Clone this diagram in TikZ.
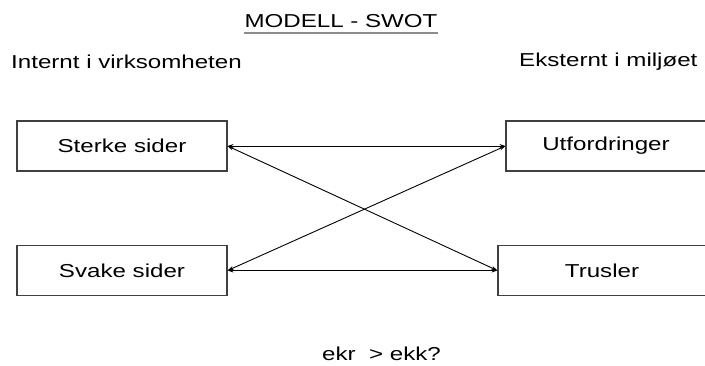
\documentclass[tikz,border=0pt]{standalone}
\usepackage{fontspec}
\setmainfont[FakeStretch=1.29]{Liberation Sans}
\usetikzlibrary{arrows.meta}
\tikzset{
  txt/.style={inner sep=0pt, font=\fontsize{18.7}{22}\selectfont},
  swotbox/.style={draw=black!75, line width=1.2pt, minimum width=#1, minimum height=50pt,
    inner sep=0pt, font=\fontsize{18.7}{22}\selectfont},
  link/.style={line width=0.9pt, {Stealth[length=6pt,width=4pt]}-{Stealth[length=6pt,width=4pt]}}
}
\begin{document}
\begin{tikzpicture}[x=1pt,y=-1pt]
\useasboundingbox (0,0) rectangle (705,365);
% headings
\node[txt, anchor=base] (title) at (341,27.7) {MODELL - SWOT};
\draw[black!45, line width=1.6pt] ([yshift=-5pt]title.base west) -- ([yshift=-5pt]title.base east);
\node[txt, anchor=base west] (intern) at (11,68.3) {Internt i virksomheten};
\node[txt, anchor=base west] (ekstern) at (519,66.7) {Eksternt i miljøet};
% the four fields
\node[swotbox=210pt] (sterke) at (122,146) {Sterke sider};
\node[swotbox=210pt] (svake) at (122,270.5) {Svake sider};
\node[swotbox=200pt] (utf) at (606,146) {Utfordringer};
\node[swotbox=208pt] (trusler) at (602,270.5) {Trusler};
% connections
\draw[link] (sterke.east) -- (utf.west);
\draw[link] (sterke.east) -- (trusler.west);
\draw[link] (svake.east) -- (utf.west);
\draw[link] (svake.east) -- (trusler.west);
% question
\node[txt, anchor=base west] (q) at (322,360.5) {ekr \ > ekk?};
\end{tikzpicture}
\end{document}
